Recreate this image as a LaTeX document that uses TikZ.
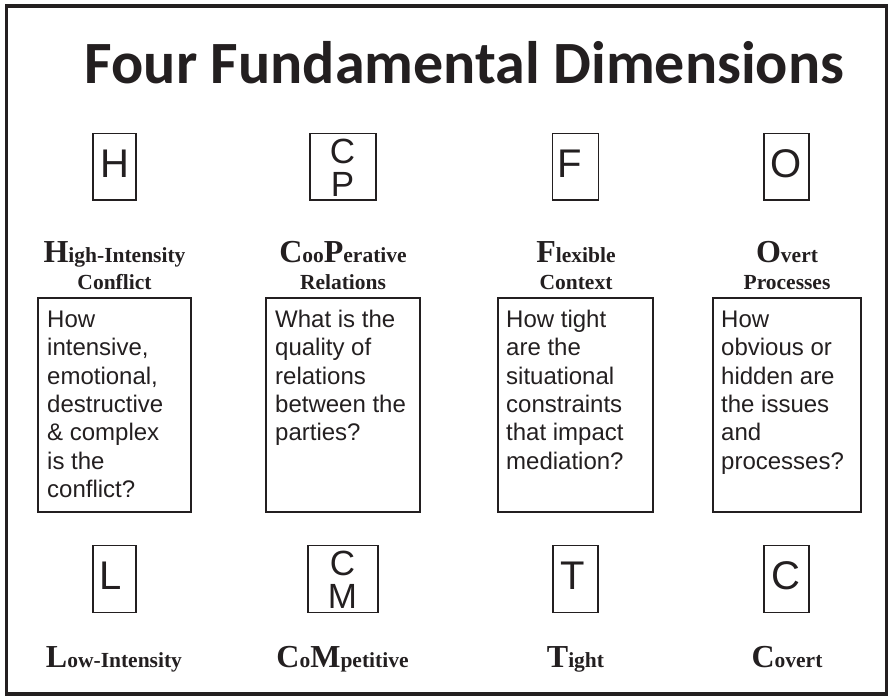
\documentclass[tikz,border=0pt]{standalone}
\usepackage{fontspec}
\setmainfont{Liberation Serif}
\newfontfamily\titlefont{Carlito}
\newfontfamily\boxfont{Liberation Sans}
\definecolor{ink}{HTML}{231F20}
\newcommand{\BigI}[1]{{\fontsize{32}{32}\selectfont #1}}
\newcommand{\SmallT}{\fontsize{21.5}{21.5}\selectfont}
\begin{document}
\begin{tikzpicture}[x=1pt,y=-1pt,
  every node/.style={inner sep=0pt,outer sep=0pt,text=ink},
  letterbox/.style={draw=ink,line width=1.6pt,minimum height=66.8pt},
  textbox/.style={draw=ink,line width=1.6pt,minimum height=214.5pt},
  letter/.style={anchor=base,font=\boxfont\fontsize{40}{40}\selectfont},
  stack/.style={anchor=base,font=\boxfont\fontsize{35}{35}\selectfont},
  dimlabel/.style={anchor=base,font=\bfseries\SmallT},
  body/.style={anchor=north west,align=left,font=\boxfont\fontsize{24}{28.3}\selectfont}]
\useasboundingbox (0,0) rectangle (890,698);
\draw[ink,line width=3.5pt] (6.5,6) rectangle (886.5,694);
\node[anchor=base,font=\titlefont\bfseries\fontsize{60}{72}\selectfont] (title) at (464.5,83.3) {Four Fundamental Dimensions};
% top letter boxes
\node[letterbox,minimum width=43pt] (bH) at (114.5,166.7) {};
\node[letterbox,minimum width=66.5pt] (bCP) at (343,166.7) {};
\node[letterbox,minimum width=46pt] (bF) at (575.6,166.7) {};
\node[letterbox,minimum width=45.5pt] (bO) at (786.5,166.7) {};
\node[letter] (lH) at (114.5,177.7) {H};
\node[stack] (lC1) at (342.5,163.5) {C};
\node[stack] (lP) at (342.5,196.7) {P};
\node[letter] (lF) at (569.5,177.3) {F};
\node[letter] (lO) at (786.5,177.5) {O};
% top labels
\node[dimlabel] (tH1) at (114.5,262) {\BigI{H}igh-Intensity};
\node[dimlabel] (tH2) at (114.5,289) {Conflict};
\node[dimlabel] (tC1) at (343,262) {\BigI{C}oo\BigI{P}erative};
\node[dimlabel] (tC2) at (343,289) {Relations};
\node[dimlabel] (tF1) at (576,262) {\BigI{F}lexible};
\node[dimlabel] (tF2) at (576,289) {Context};
\node[dimlabel] (tO1) at (787,262) {\BigI{O}vert};
\node[dimlabel] (tO2) at (787,289) {Processes};
% text boxes
\node[textbox,minimum width=153.5pt] (q1) at (114.5,405) {};
\node[textbox,minimum width=154.5pt] (q2) at (343,405) {};
\node[textbox,minimum width=155.5pt] (q3) at (575.5,405) {};
\node[textbox,minimum width=148.5pt] (q4) at (787,405) {};
\node[body] (a1) at (47.2,309.5) {\rule{0pt}{18pt}How\\intensive,\\emotional,\\destructive\\\& complex\\is the\\conflict?};
\node[body] (a2) at (275.2,309.5) {\rule{0pt}{18pt}What is the\\quality of\\relations\\between the\\parties?};
\node[body] (a3) at (506.2,309.5) {\rule{0pt}{18pt}How tight\\are the\\situational\\constraints\\that impact\\mediation?};
\node[body] (a4) at (721.2,309.5) {\rule{0pt}{18pt}How\\obvious or\\hidden are\\the issues\\and\\processes?};
% bottom letter boxes
\node[letterbox,minimum width=43.5pt] (bL) at (114.5,579) {};
\node[letterbox,minimum width=70.5pt] (bCM) at (343,579) {};
\node[letterbox,minimum width=45.5pt] (bT) at (575.5,579) {};
\node[letterbox,minimum width=45.5pt] (bC) at (786.5,579) {};
\node[letter] (lL) at (110.5,589.3) {L};
\node[stack] (lC2) at (342.5,575.5) {C};
\node[stack] (lM) at (342.5,608.3) {M};
\node[letter] (lT) at (572.5,589.3) {T};
\node[letter] (lCc) at (786.3,589.3) {C};
% bottom labels
\node[dimlabel] (bl1) at (114,667) {\BigI{L}ow-Intensity};
\node[dimlabel] (bl2) at (342.5,667) {\BigI{C}o\BigI{M}petitive};
\node[dimlabel] (bl3) at (575.5,667) {\BigI{T}ight};
\node[dimlabel] (bl4) at (787,667) {\BigI{C}overt};
\end{tikzpicture}
\end{document}
